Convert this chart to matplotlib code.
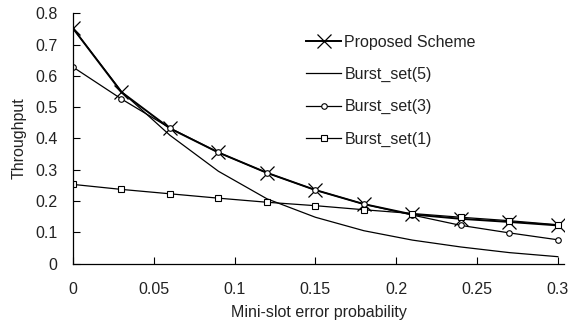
import matplotlib
matplotlib.use("Agg")
import matplotlib.pyplot as plt

plt.rcParams['font.family'] = ['Liberation Sans', 'DejaVu Sans']

error_prob = [0, 0.03, 0.06, 0.09, 0.12, 0.15, 0.18, 0.21, 0.24, 0.27, 0.3]
proposed = [0.752, 0.548, 0.432, 0.355, 0.29, 0.235, 0.19, 0.157, 0.143, 0.133, 0.122]
burst5 = [0.752, 0.55, 0.41, 0.295, 0.207, 0.148, 0.105, 0.075, 0.053, 0.035, 0.022]
burst3 = [0.628, 0.526, 0.433, 0.355, 0.29, 0.235, 0.19, 0.155, 0.122, 0.098, 0.076]
burst1 = [0.253, 0.237, 0.223, 0.209, 0.196, 0.185, 0.172, 0.16, 0.148, 0.137, 0.124]

fig = plt.figure(figsize=(5.7, 3.23), dpi=100)
ax = fig.add_axes([0.128, 0.184, 0.862, 0.775])

ax.plot(error_prob, proposed, color="black", lw=1.4, marker="x", ms=10,
        mew=0.9, label="Proposed Scheme")
ax.plot(error_prob, burst5, color="black", lw=0.9, label="Burst_set(5)")
ax.plot(error_prob, burst3, color="black", lw=0.9, marker="o", ms=4,
        mfc="white", mew=0.8, label="Burst_set(3)")
ax.plot(error_prob, burst1, color="black", lw=0.9, marker="s", ms=4.5,
        mfc="white", mew=0.8, label="Burst_set(1)")

ax.set_xlim(0, 0.304)
ax.set_ylim(0, 0.8)
ax.set_xticks([0, 0.05, 0.1, 0.15, 0.2, 0.25, 0.3])
ax.set_xticklabels(["0", "0.05", "0.1", "0.15", "0.2", "0.25", "0.3"])
ax.set_yticks([0, 0.1, 0.2, 0.3, 0.4, 0.5, 0.6, 0.7, 0.8])
ax.set_yticklabels(["0", "0.1", "0.2", "0.3", "0.4", "0.5", "0.6", "0.7", "0.8"])
ax.tick_params(direction="in", length=5, width=0.8, labelsize=11.5,
               labelcolor="#222222")
ax.tick_params(axis="x", pad=13)
ax.tick_params(axis="y", pad=11)

for side in ["top", "right"]:
    ax.spines[side].set_visible(False)
for side in ["left", "bottom"]:
    ax.spines[side].set_linewidth(0.9)

ax.set_xlabel("Mini-slot error probability", fontsize=11.5, labelpad=6,
              color="#222222")
ax.set_ylabel("Throughput", fontsize=11.5, labelpad=6, color="#222222")

leg = ax.legend(loc="upper left", bbox_to_anchor=(0.445, 0.972), frameon=False,
                fontsize=11.5, handlelength=2.2, handletextpad=0.2,
                labelspacing=1.08)
for t in leg.get_texts():
    t.set_color("#222222")

fig.savefig("out.png", dpi=100)
